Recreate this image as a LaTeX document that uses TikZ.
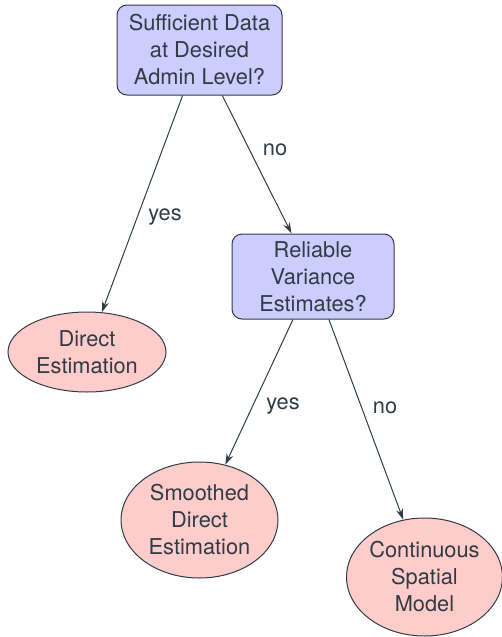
\documentclass[tikz,border=0pt]{standalone}
\usepackage{fontspec}
\setmainfont{TeX Gyre Heros}
\usetikzlibrary{shapes.geometric,arrows.meta}
\definecolor{ink}{RGB}{48,60,68}
\definecolor{qfill}{RGB}{204,204,255}
\definecolor{afill}{RGB}{255,204,204}
\begin{document}
\begin{tikzpicture}[x=1pt,y=-1pt,
  every node/.style={text=ink,font=\fontsize{21.8}{27}\selectfont},
  question/.style={draw=ink,line width=1pt,fill=qfill,rounded corners=10pt,
    align=center,inner sep=0pt},
  answer/.style={ellipse,draw=ink,line width=1pt,fill=afill,align=center,inner sep=0pt},
  link/.style={draw=ink,line width=1pt,-{Stealth[length=11pt,width=7pt]}}]
\useasboundingbox (0,0) rectangle (501,637);
\node[question,minimum width=165pt,minimum height=90pt] (q1) at (199.5,50)
  {Sufficient Data\\at Desired\\Admin Level?};
\node[question,minimum width=162pt,minimum height=85pt] (q2) at (313,276.5)
  {Reliable\\Variance\\Estimates?};
\node[answer,minimum width=158pt,minimum height=80pt] (d1) at (87,352)
  {Direct\\Estimation};
\node[answer,minimum width=157pt,minimum height=116pt] (d2) at (199.5,520)
  {Smoothed\\Direct\\Estimation};
\node[answer,minimum width=152pt,minimum height=118pt] (d3) at (424.5,577)
  {Continuous\\Spatial\\Model};
\draw[link] (q1) -- (d1);
\draw[link] (q1) -- (q2);
\draw[link] (q2) -- (d2);
\draw[link] (q2) -- (d3);
\node (l1) at (165,216.5) {yes};
\node (l2) at (275,150) {no};
\node (l3) at (283,406) {yes};
\node (l4) at (385,408) {no};
\end{tikzpicture}
\end{document}
